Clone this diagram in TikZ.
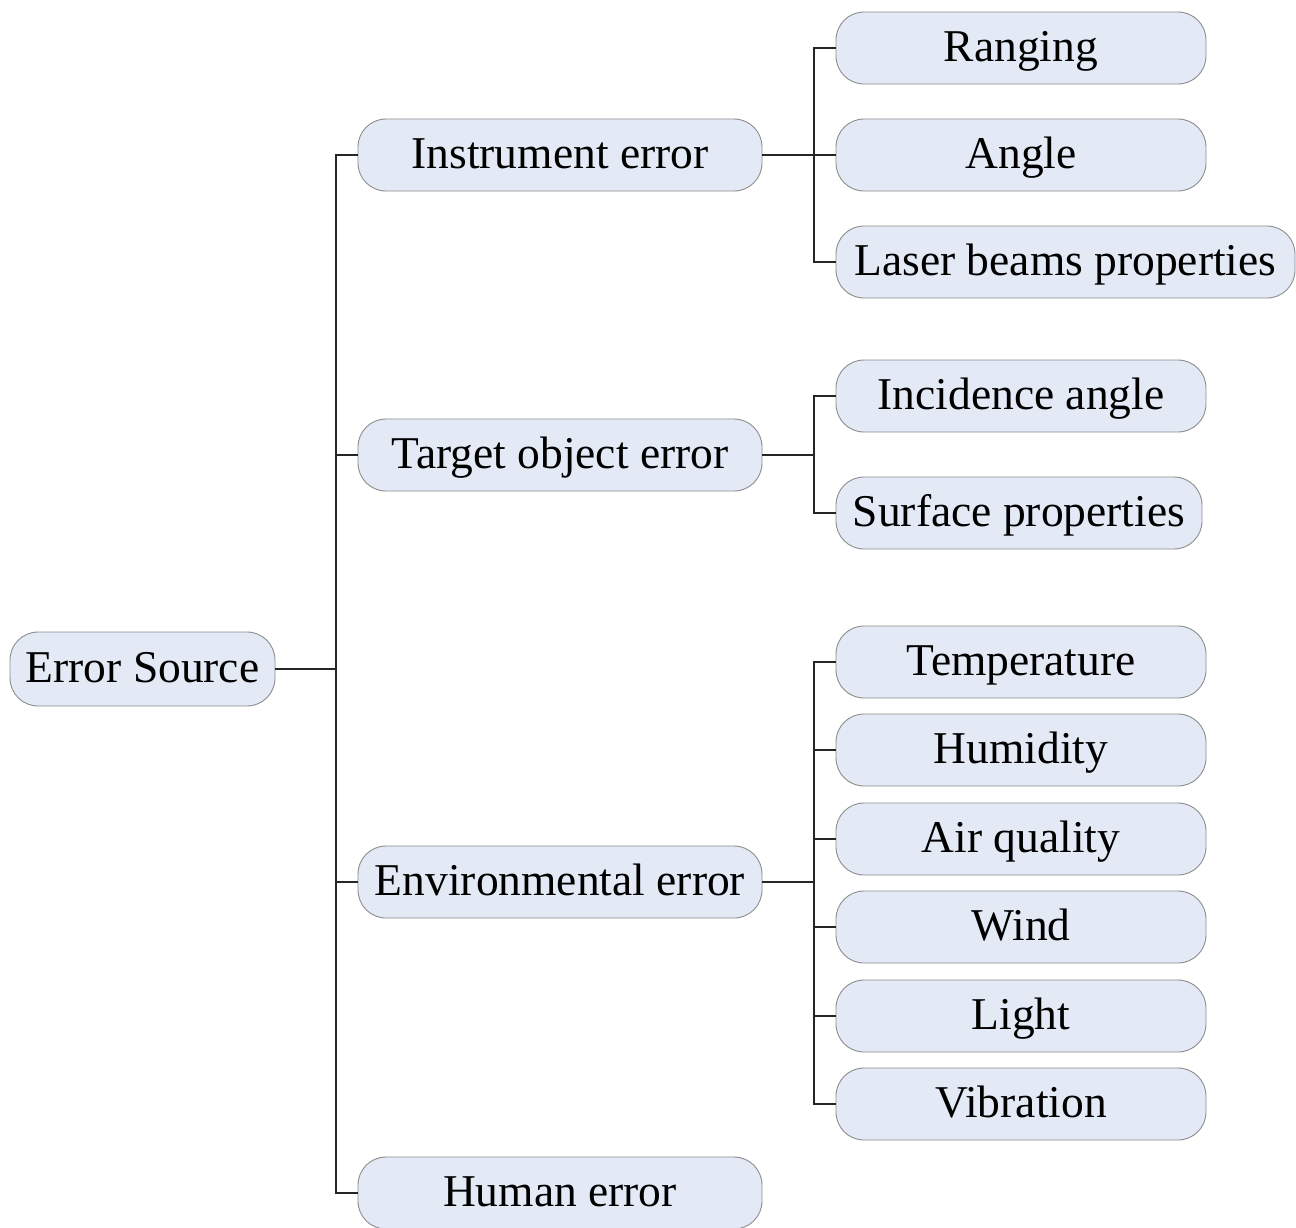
\documentclass[tikz,border=0pt]{standalone}
\usepackage{fontspec}
\setmainfont{Liberation Serif}
\begin{document}
\begin{tikzpicture}[x=1pt,y=-1pt,
  box/.style={draw=black!45, line width=0.9pt, fill=boxfill, rounded corners=28pt,
    inner sep=0pt, minimum height=72pt, text height=30pt, text depth=4pt,
    font=\fontsize{45.5}{50}\selectfont},
  lvlone/.style={box, minimum width=404pt},
  lvltwo/.style={box, minimum width=370pt},
  link/.style={line width=1.8pt, black!85}]
\definecolor{boxfill}{HTML}{E3EAF6}
\useasboundingbox (0,0) rectangle (1296,1227);

% root
\node[box, minimum width=265pt, minimum height=74pt] (root) at (142.5,669) {Error Source};

% first level
\node[lvlone] (ins) at (560,155) {Instrument error};
\node[lvlone] (tgt) at (560,455) {Target object error};
\node[lvlone] (env) at (560,882) {Environmental error};
\node[lvlone] (hum) at (560,1193) {Human error};

% second level
\node[lvltwo] (rng) at (1021,48) {Ranging};
\node[lvltwo] (ang) at (1021,155) {Angle};
\node[box, minimum width=459pt] (las) at (1065.5,262) {Laser beams properties};
\node[lvltwo] (inc) at (1021,396) {Incidence angle};
\node[box, minimum width=366pt] (sur) at (1019,513) {Surface properties};
\node[lvltwo] (tmp) at (1021,662) {Temperature};
\node[lvltwo] (hmd) at (1021,750) {Humidity};
\node[lvltwo] (air) at (1021,839) {Air quality};
\node[lvltwo] (wnd) at (1021,927) {Wind};
\node[lvltwo] (lgt) at (1021,1016) {Light};
\node[lvltwo] (vib) at (1021,1104) {Vibration};

% bus junctions
\coordinate (b0) at (336,669);
\coordinate (b1) at (814,155);
\coordinate (b2) at (814,455);
\coordinate (b3) at (814,882);

% root to first level
\draw[link] (root.east) -- (b0);
\foreach \c in {ins,tgt,env,hum} \draw[link] (b0) |- (\c.west);

% first level to second level
\draw[link] (ins.east) -- (b1);
\foreach \c in {rng,ang,las} \draw[link] (b1) |- (\c.west);
\draw[link] (tgt.east) -- (b2);
\foreach \c in {inc,sur} \draw[link] (b2) |- (\c.west);
\draw[link] (env.east) -- (b3);
\foreach \c in {tmp,hmd,air,wnd,lgt,vib} \draw[link] (b3) |- (\c.west);
\end{tikzpicture}
\end{document}
